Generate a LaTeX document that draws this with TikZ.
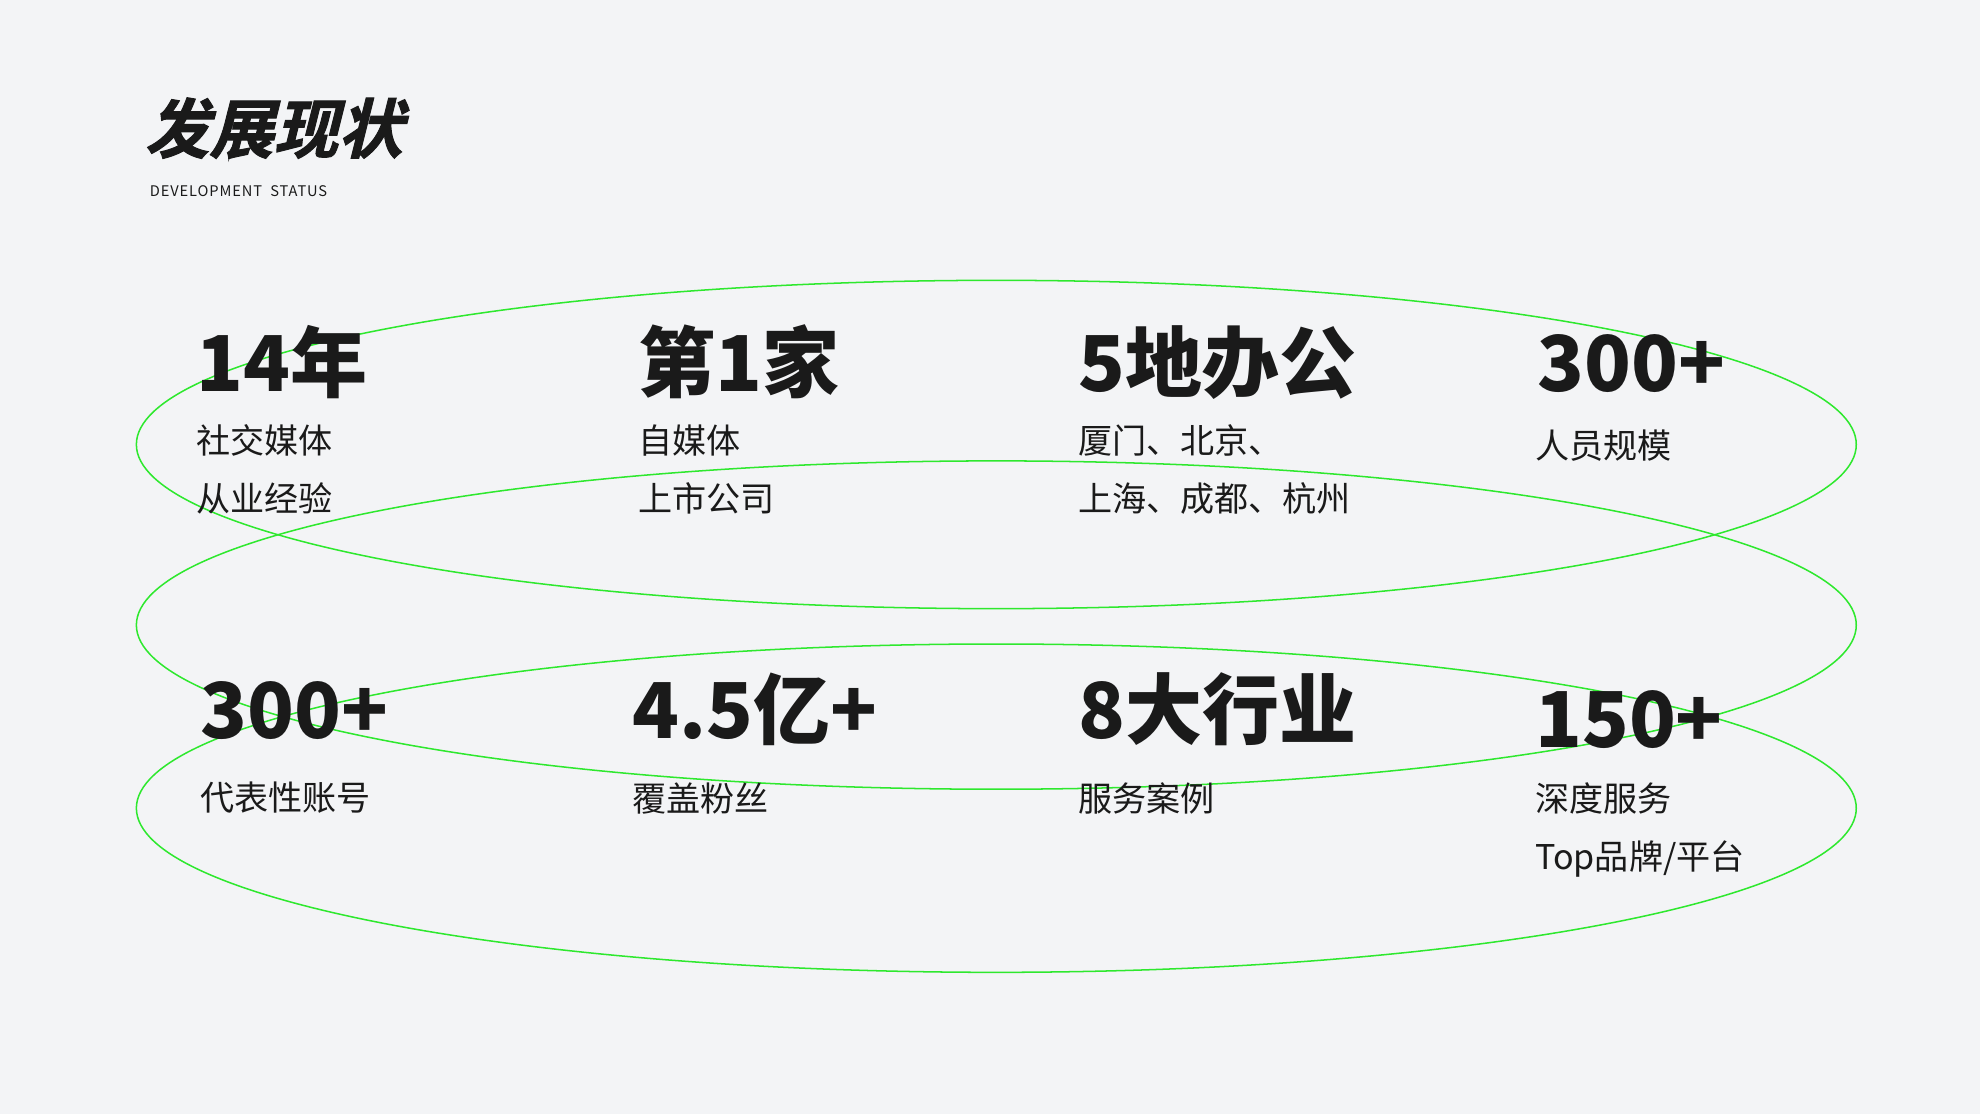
\documentclass[tikz,border=0pt]{standalone}
\usepackage{fontspec}
\setmainfont{Noto Sans CJK SC}
\newfontfamily\cjk{Noto Sans CJK SC}
\newfontfamily\cjkslant[FakeSlant=0.25,FakeBold=1.5]{Noto Sans CJK SC Bold}
\newfontfamily\cjkwide[LetterSpace=6]{Noto Sans CJK SC}
\definecolor{ringgreen}{HTML}{2EE82E}
\definecolor{paper}{HTML}{F3F4F6}
\definecolor{ink}{HTML}{1A1A1A}
\tikzset{every picture/.style={line width=0.75pt}}
\tikzset{
  ring/.style={draw=ringgreen, line width=0.6pt},
  bignum/.style={anchor=base west, inner sep=0pt, text=ink, font=\cjk\bfseries\fontsize{30.5}{34}\selectfont},
  smalltxt/.style={anchor=west, inner sep=0pt, text=ink, align=left, font=\cjk\fontsize{13.5}{23}\selectfont}
}
\begin{document}
\begin{tikzpicture}[x=0.5pt,y=-0.5pt]
  \fill[paper] (0,0) rectangle (1568,882);
  \useasboundingbox (0,0) rectangle (1568,882);

  % rings
  \draw[ring] (789,352) ellipse [x radius=681, y radius=130];
  \draw[ring] (789,495) ellipse [x radius=681, y radius=130];
  \draw[ring] (789,640) ellipse [x radius=681, y radius=130];

  % title
  \node[anchor=base west, inner sep=0pt, text=ink, font=\cjkslant\fontsize{25.5}{30}\selectfont] (title) at (114,121) {发展现状};
  \node[anchor=west, inner sep=0pt, text=ink, font=\cjkwide\fontsize{5.8}{7}\selectfont] (subtitle) at (118,151) {DEVELOPMENT\ \ STATUS};

  % first row
  \node[bignum] (yearsnum) at (155,310) {14年};
  \node[smalltxt] (yearstxt) at (155,372) {社交媒体\\从业经验};
  \node[bignum] (firstnum) at (505,310) {第1家};
  \node[smalltxt] (firsttxt) at (505,372) {自媒体\\上市公司};
  \node[bignum] (officenum) at (853,310) {5地办公};
  \node[smalltxt] (officetxt) at (853,372) {厦门、北京、\\上海、成都、杭州};
  \node[bignum] (staffnum) at (1217,310) {300+};
  \node[smalltxt] (stafftxt) at (1215,353) {人员规模};

  % second row
  \node[bignum] (accnum) at (158,585) {300+};
  \node[smalltxt] (acctxt) at (158,632) {代表性账号};
  \node[bignum] (fansnum) at (500,585) {4.5亿+};
  \node[smalltxt] (fanstxt) at (500,632) {覆盖粉丝};
  \node[bignum] (tradenum) at (853,585) {8大行业};
  \node[smalltxt] (tradetxt) at (853,632) {服务案例};
  \node[bignum] (brandnum) at (1215,592) {150+};
  \node[smalltxt] (brandtxt) at (1215,657) {深度服务\\Top品牌/平台};
\end{tikzpicture}
\end{document}
